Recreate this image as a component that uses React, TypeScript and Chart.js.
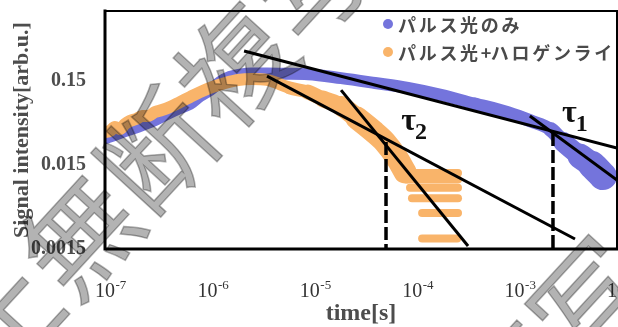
import React, { useEffect, useRef } from 'react';
import { Chart, registerables } from 'chart.js';

Chart.register(...registerables);

// ---------------- data ----------------
const seriesNames = ['パルス光のみ', 'パルス光+ハロゲンライト'];
const seriesColors = ['#7474dc', '#f9b46a'];

// series 1 : pulse light only
const pulseTime = [
  1.0e-7, 1.25e-7, 1.57e-7, 1.96e-7, 2.46e-7, 3.08e-7, 4.03e-7, 5.4e-7, 6.76e-7, 8.47e-7,
  1.06e-6, 1.33e-6, 1.66e-6, 2.08e-6, 2.73e-6, 3.82e-6, 5.72e-6, 9.6e-6, 2.02e-5, 4.33e-5,
  9.1e-5, 1.91e-4, 4.1e-4, 8.62e-4, 1.41e-3, 2.27e-3, 2.97e-3, 4.35e-3, 5.7e-3, 7.29e-3,
];
const pulseSignal = [
  0.031, 0.034, 0.0377, 0.041, 0.0456, 0.051, 0.06, 0.0706, 0.079, 0.098,
  0.115, 0.144, 0.165, 0.176, 0.181, 0.181, 0.18, 0.178, 0.16, 0.14,
  0.122, 0.101, 0.079, 0.062, 0.05, 0.039, 0.028, 0.019, 0.0149, 0.011,
];

// series 2 : pulse light + halogen light
const haloTime = [
  1.0e-7, 1.12e-7, 1.25e-7, 1.4e-7, 1.57e-7, 1.75e-7, 2.01e-7, 2.3e-7, 2.63e-7, 3.08e-7,
  3.6e-7, 4.31e-7, 5.4e-7, 6.76e-7, 8.47e-7, 1.11e-6, 1.49e-6, 1.99e-6, 2.73e-6, 3.82e-6,
  6.41e-6, 9.6e-6, 1.35e-5, 2.02e-5, 2.89e-5, 4.14e-5, 5.42e-5, 7.1e-5, 8.51e-5,
];
const haloSignal = [
  0.0366, 0.0377, 0.042, 0.0398, 0.0456, 0.0495, 0.0523, 0.0567, 0.0567, 0.0633,
  0.0668, 0.0726, 0.0831, 0.0953, 0.109, 0.125, 0.14, 0.152, 0.156, 0.152,
  0.122, 0.109, 0.0903, 0.0746, 0.0537, 0.0377, 0.0279, 0.018, 0.0123,
];
// quantised noisy tail of series 2 (signal level, first time, last time)
const haloTailLevel = [0.012, 0.01, 0.008, 0.006, 0.004, 0.002];
const haloTailStart = [8.32e-5, 8.9e-5, 9.52e-5, 9.95e-5, 1.25e-4, 1.25e-4];
const haloTailEnd = [2.8e-4, 2.8e-4, 2.8e-4, 2.8e-4, 2.8e-4, 2.75e-4];

// fitted straight lines (log-log)
const fitStartTime = [2.28e-6, 1.41e-3, 3.82e-6, 2.02e-5];
const fitStartSignal = [0.335, 0.0567, 0.169, 0.115];
const fitEndTime = [1e-2, 1e-2, 3.89e-3, 3.51e-4];
const fitEndSignal = [0.0237, 0.00988, 0.00197, 0.00163];

// time constants
const tauNames = ['2', '1'];
const tauTime = [5.55e-5, 2.37e-3];
const tauSignal = [0.0279, 0.0357];
const tauLabelTime = [7.8e-5, 2.9e-3];
const tauLabelSignal = [0.0387, 0.0479];

// axes
const xMin = 1e-7;
const xMax = 1e-2;
const yMin = 0.0015;
const yMax = 1;
const xTickExponents = [-7, -6, -5, -4, -3, -2];
const yTickValues = [0.0015, 0.015, 0.15];
const yTickLabels = ['0.0015', '0.015', '0.15'];
const xTitle = 'time[s]';
const yTitle = 'Signal intensity[arb.u.]';

const watermarkLines = ['止無断複写', '無断複写・転載禁止'];

// ---------------- helpers ----------------
const pts = (xs: number[], ys: number[]) => xs.map((t, i) => ({ x: t, y: ys[i] }));

const pulseSegWidth = (i: number) =>
  i >= 28 ? 28 : i >= 27 ? 25 : i >= 26 ? 20 : i >= 25 ? 15 : i >= 22 ? 13 : 12;
const haloSegWidth = (i: number) =>
  i >= 24 ? 23 : i >= 23 ? 20 : i >= 22 ? 17 : i >= 21 ? 15 : i >= 20 ? 13 : 12;

const decorPlugin = {
  id: 'decor',
  beforeDraw(chart: any) {
    const { ctx, width, height } = chart;
    ctx.save();
    ctx.fillStyle = '#ffffff';
    ctx.fillRect(0, 0, width, height);
    ctx.restore();
  },
  afterDraw(chart: any) {
    const { ctx, chartArea: a, scales } = chart;
    const xs = scales.x;
    const ys = scales.y;
    ctx.save();

    // frame
    ctx.strokeStyle = '#000';
    ctx.lineCap = 'square';
    ctx.lineWidth = 3;
    ctx.beginPath();
    ctx.moveTo(a.left, a.top);
    ctx.lineTo(a.left, a.bottom);
    ctx.lineTo(a.right, a.bottom);
    ctx.stroke();
    ctx.lineWidth = 2;
    ctx.beginPath();
    ctx.moveTo(a.left, a.top);
    ctx.lineTo(a.right, a.top);
    ctx.lineTo(a.right, a.bottom);
    ctx.stroke();

    // x tick labels 10^n
    ctx.fillStyle = '#333';
    ctx.textAlign = 'left';
    ctx.textBaseline = 'alphabetic';
    xTickExponents.forEach((e) => {
      const px = xs.getPixelForValue(Math.pow(10, e));
      ctx.font = '20px "Liberation Serif"';
      const w = ctx.measureText('10').width;
      const x0 = px - 10;
      ctx.fillText('10', x0, a.bottom + 48);
      ctx.font = '13px "Liberation Serif"';
      ctx.fillText(String(e), x0 + w + 0.5, a.bottom + 40);
    });

    // tau labels
    tauNames.forEach((n, i) => {
      const px = xs.getPixelForValue(tauLabelTime[i]);
      const py = ys.getPixelForValue(tauLabelSignal[i]);
      ctx.fillStyle = '#111';
      ctx.font = 'bold 32px "Liberation Serif"';
      ctx.fillText('τ', px, py);
      const w = ctx.measureText('τ').width;
      ctx.font = 'bold 24px "Liberation Serif"';
      ctx.fillText(n, px + w - 1, py + 9);
    });

    // legend
    seriesNames.forEach((name, i) => {
      const cy = a.top + 13 + i * 28;
      const cx0 = a.right - 229;
      ctx.fillStyle = seriesColors[i];
      ctx.beginPath();
      ctx.arc(cx0, cy, 5, 0, Math.PI * 2);
      ctx.fill();
      ctx.fillStyle = '#4a4a4a';
      ctx.font = 'bold 18px "Noto Sans CJK JP"';
      ctx.textBaseline = 'middle';
      ctx.textAlign = 'left';
      let cx = cx0 + 10;
      for (const ch of name) {
        ctx.fillText(ch, cx, cy + 1);
        cx += ch === '+' ? 10 : 20.7;
      }
    });

    // watermark
    ctx.globalCompositeOperation = 'multiply';
    ctx.fillStyle = '#b3b3b3';
    ctx.strokeStyle = '#b3b3b3';
    ctx.lineWidth = 1.5;
    ctx.lineJoin = 'miter';
    ctx.font = '112px "Noto Sans CJK JP"';
    ctx.textAlign = 'center';
    ctx.textBaseline = 'middle';
    const ang = (-47.5 * Math.PI) / 180;
    const d = [Math.cos(ang), Math.sin(ang)];
    const nrm = [-Math.sin(ang), Math.cos(ang)];
    const ox = 2;
    const oy = 320;
    const lineOffsets = [
      [0, 0],
      [67, 420],
    ];
    watermarkLines.forEach((txt, li) => {
      const [along, perp] = lineOffsets[li];
      const sx = ox + along * d[0] + perp * nrm[0];
      const sy = oy + along * d[1] + perp * nrm[1];
      ctx.save();
      ctx.translate(sx, sy);
      ctx.rotate(ang);
      Array.from(txt).forEach((ch, k) => {
        ctx.fillText(ch, k * 115, 0);
        ctx.strokeText(ch, k * 115, 0);
      });
      ctx.restore();
    });

    ctx.restore();
  },
};

export default function App() {
  const ref = useRef<HTMLCanvasElement>(null);

  useEffect(() => {
    const canvas = ref.current;
    if (!canvas) return;

    const band = {
      type: 'line' as const,
      showLine: true,
      pointRadius: 0,
      borderCapStyle: 'round' as const,
      borderJoinStyle: 'round' as const,
      cubicInterpolationMode: 'monotone' as const,
      fill: false,
    };

    const datasets: any[] = [];

    fitStartTime.forEach((t, i) => {
      datasets.push({
        label: 'fit' + i,
        data: [
          { x: t, y: fitStartSignal[i] },
          { x: fitEndTime[i], y: fitEndSignal[i] },
        ],
        borderColor: '#000',
        borderWidth: 3,
        pointRadius: 0,
        order: 1,
      });
    });
    tauTime.forEach((t, i) => {
      datasets.push({
        label: 'tau' + tauNames[i],
        data: [
          { x: t, y: tauSignal[i] },
          { x: t, y: yMin },
        ],
        borderColor: '#000',
        borderWidth: 3.5,
        borderDash: [13, 4],
        pointRadius: 0,
        order: 1,
      });
    });
    datasets.push({
      ...band,
      label: seriesNames[1],
      data: pts(haloTime, haloSignal),
      borderColor: seriesColors[1],
      borderWidth: 12,
      segment: { borderWidth: (c: any) => haloSegWidth(c.p0DataIndex) },
      order: 2,
    });
    haloTailLevel.forEach((lv, i) => {
      datasets.push({
        ...band,
        label: 'tail' + i,
        data: [
          { x: haloTailStart[i], y: lv },
          { x: haloTailEnd[i], y: lv },
        ],
        borderColor: seriesColors[1],
        borderWidth: 8,
        order: 2,
      });
    });
    datasets.push({
      ...band,
      label: seriesNames[0],
      data: pts(pulseTime, pulseSignal),
      borderColor: seriesColors[0],
      borderWidth: 12,
      segment: { borderWidth: (c: any) => pulseSegWidth(c.p0DataIndex) },
      order: 3,
    });

    const chart = new Chart(canvas, {
      type: 'line',
      data: { datasets },
      plugins: [decorPlugin],
      options: {
        animation: false,
        responsive: true,
        maintainAspectRatio: false,
        events: [],
        layout: { padding: { top: 11, right: 1, left: 0, bottom: 0 } },
        plugins: {
          legend: { display: false },
          tooltip: { enabled: false },
        },
        scales: {
          x: {
            type: 'logarithmic',
            min: xMin,
            max: xMax,
            grid: { display: false, drawTicks: false },
            border: { display: false },
            ticks: { display: false },
            afterFit: (s: any) => {
              s.height = 78;
              s.paddingLeft = 0;
              s.paddingRight = 0;
            },
            title: {
              display: true,
              text: xTitle,
              color: '#4d4d4d',
              font: { family: 'Liberation Serif', size: 24, weight: 'bold', lineHeight: 1.1 },
              padding: { top: 0, bottom: 0 },
            },
          },
          y: {
            type: 'logarithmic',
            min: yMin,
            max: yMax,
            grid: { display: false, drawTicks: false },
            border: { display: false },
            afterBuildTicks: (s: any) => {
              s.ticks = yTickValues.map((v) => ({ value: v }));
            },
            afterFit: (s: any) => {
              s.width = 105;
              s.paddingTop = 0;
              s.paddingBottom = 0;
            },
            ticks: {
              padding: 19,
              color: '#4d4d4d',
              font: { family: 'Liberation Serif', size: 20, weight: 'bold' },
              callback: (_v: any, i: number) => yTickLabels[i],
            },
            title: {
              display: true,
              text: yTitle,
              color: '#4d4d4d',
              font: { family: 'Liberation Serif', size: 22, weight: 'bold', lineHeight: 1.2 },
              padding: { top: 9, bottom: 0 },
            },
          },
        },
      } as any,
    });

    return () => chart.destroy();
  }, []);

  return (
    <div style={{ position: 'absolute', left: 0, top: 0, width: 618, height: 327 }}>
      <canvas ref={ref} />
    </div>
  );
}
